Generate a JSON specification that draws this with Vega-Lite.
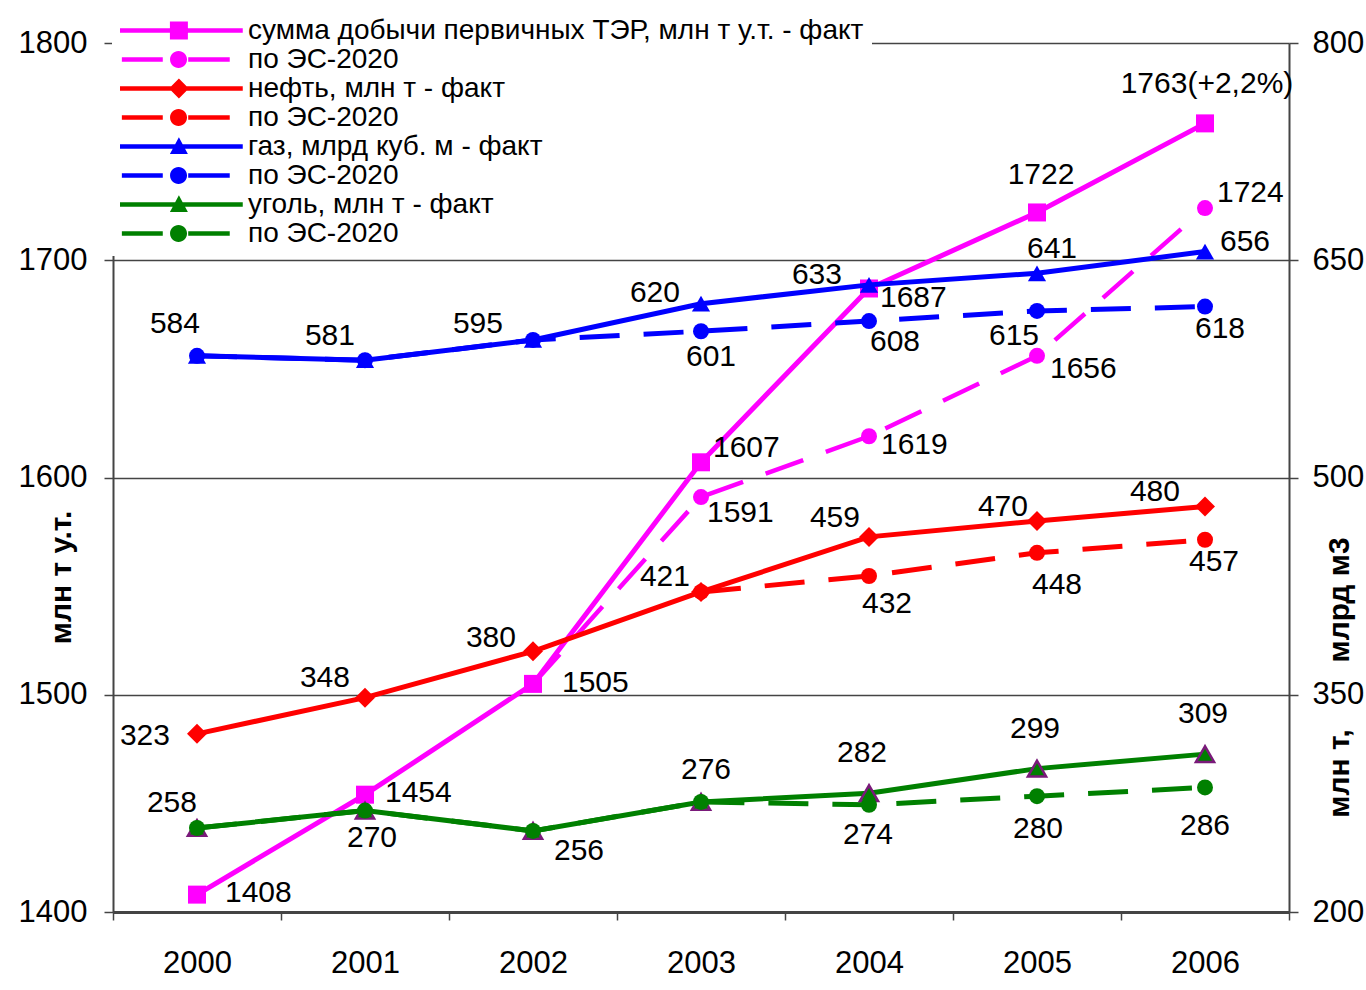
{
  "$schema": "https://vega.github.io/schema/vega-lite/v6.json",
  "width": 1176,
  "height": 869,
  "autosize": "none",
  "padding": {"left": 113, "top": 43, "right": 77, "bottom": 78},
  "background": "white",
  "config": {
    "view": {"stroke": null},
    "axis": {"labelFont": "Liberation Sans", "labelFontSize": 31, "labelColor": "#000", "titleFont": "Liberation Sans", "titleColor": "#000", "domainColor": "#444", "tickColor": "#444", "gridColor": "#444", "labelFlush": false, "labelOverlap": false},
    "text": {"font": "Liberation Sans", "fontSize": 30, "baseline": "middle", "color": "#000"}
  },
  "data": {"values": [
    {"code": "TF", "year": "2000", "value": 1408, "label": "1408"},
    {"code": "TF", "year": "2001", "value": 1454, "label": "1454"},
    {"code": "TF", "year": "2002", "value": 1505, "label": "1505"},
    {"code": "TF", "year": "2003", "value": 1607, "label": "1607"},
    {"code": "TF", "year": "2004", "value": 1687, "label": "1687"},
    {"code": "TF", "year": "2005", "value": 1722, "label": "1722"},
    {"code": "TF", "year": "2006", "value": 1763, "label": "1763(+2,2%)"},
    {"code": "TP", "year": "2002", "value": 1505, "label": null},
    {"code": "TP", "year": "2003", "value": 1591, "label": "1591"},
    {"code": "TP", "year": "2004", "value": 1619, "label": "1619"},
    {"code": "TP", "year": "2005", "value": 1656, "label": "1656"},
    {"code": "TP", "year": "2006", "value": 1724, "label": "1724"},
    {"code": "OF", "year": "2000", "value": 323, "label": "323"},
    {"code": "OF", "year": "2001", "value": 348, "label": "348"},
    {"code": "OF", "year": "2002", "value": 380, "label": "380"},
    {"code": "OF", "year": "2003", "value": 421, "label": "421"},
    {"code": "OF", "year": "2004", "value": 459, "label": "459"},
    {"code": "OF", "year": "2005", "value": 470, "label": "470"},
    {"code": "OF", "year": "2006", "value": 480, "label": "480"},
    {"code": "OP", "year": "2003", "value": 421, "label": null},
    {"code": "OP", "year": "2004", "value": 432, "label": "432"},
    {"code": "OP", "year": "2005", "value": 448, "label": "448"},
    {"code": "OP", "year": "2006", "value": 457, "label": "457"},
    {"code": "GF", "year": "2000", "value": 584, "label": "584"},
    {"code": "GF", "year": "2001", "value": 581, "label": "581"},
    {"code": "GF", "year": "2002", "value": 595, "label": "595"},
    {"code": "GF", "year": "2003", "value": 620, "label": "620"},
    {"code": "GF", "year": "2004", "value": 633, "label": "633"},
    {"code": "GF", "year": "2005", "value": 641, "label": "641"},
    {"code": "GF", "year": "2006", "value": 656, "label": "656"},
    {"code": "GP", "year": "2000", "value": 584, "label": null},
    {"code": "GP", "year": "2001", "value": 581, "label": null},
    {"code": "GP", "year": "2002", "value": 595, "label": null},
    {"code": "GP", "year": "2003", "value": 601, "label": "601"},
    {"code": "GP", "year": "2004", "value": 608, "label": "608"},
    {"code": "GP", "year": "2005", "value": 615, "label": "615"},
    {"code": "GP", "year": "2006", "value": 618, "label": "618"},
    {"code": "CF", "year": "2000", "value": 258, "label": "258"},
    {"code": "CF", "year": "2001", "value": 270, "label": null},
    {"code": "CF", "year": "2002", "value": 256, "label": "256"},
    {"code": "CF", "year": "2003", "value": 276, "label": "276"},
    {"code": "CF", "year": "2004", "value": 282, "label": "282"},
    {"code": "CF", "year": "2005", "value": 299, "label": "299"},
    {"code": "CF", "year": "2006", "value": 309, "label": "309"},
    {"code": "CP", "year": "2000", "value": 258, "label": null},
    {"code": "CP", "year": "2001", "value": 270, "label": "270"},
    {"code": "CP", "year": "2002", "value": 256, "label": null},
    {"code": "CP", "year": "2003", "value": 276, "label": null},
    {"code": "CP", "year": "2004", "value": 274, "label": "274"},
    {"code": "CP", "year": "2005", "value": 280, "label": "280"},
    {"code": "CP", "year": "2006", "value": 286, "label": "286"}
  ]},
  "encoding": {
    "x": {"field": "year", "type": "ordinal", "bandPosition": 0.5,
      "scale": {"type": "band", "paddingInner": 0, "paddingOuter": 0},
      "axis": {"title": null, "labelAngle": 0, "tickBand": "extent", "tickSize": 8, "tickWidth": 1.5, "domainWidth": 3, "labelPadding": 28, "grid": false}}
  },
  "layer": [
    {
      "transform": [{"filter": "datum.code=='TF'||datum.code=='TP'"}],
      "encoding": {
        "y": {"field": "value", "type": "quantitative",
          "scale": {"domain": [1400, 1800], "zero": false, "nice": false},
          "axis": {"orient": "left", "values": [1400, 1500, 1600, 1700, 1800], "format": "d", "grid": true, "gridWidth": 1.3, "domainWidth": 2, "tickSize": 9, "tickWidth": 1.5, "labelPadding": 17,
            "title": "млн т у.т.", "titleFontSize": 30, "titleFontWeight": "bold", "titleAngle": -90, "titleX": -43, "titleY": 534, "titleAlign": "center", "titleBaseline": "alphabetic"}}
      },
      "layer": [
        {"transform": [{"filter": "datum.code=='TF'"}], "mark": {"type": "line", "strokeWidth": 5},
          "encoding": {"color": {"field": "code", "type": "nominal",
            "scale": {"domain": ["TF", "TP", "OF", "OP", "GF", "GP", "CF", "CP"], "range": ["#ff00ff", "#ff00ff", "#ff0000", "#ff0000", "#0000ff", "#0000ff", "#008000", "#008000"]},
            "legend": {"orient": "none", "legendX": -1, "legendY": -35, "fillColor": "white", "padding": 8, "title": null, "symbolSize": 15376, "symbolStrokeWidth": 0, "clipHeight": 29, "rowPadding": 0,
              "labelFont": "Liberation Sans", "labelFontSize": 28, "labelColor": "#000", "labelOffset": 4, "labelLimit": 0,
              "labelExpr": "datum.value=='TF'?'сумма добычи первичных ТЭР, млн т у.т. - факт':datum.value=='OF'?'нефть, млн т - факт':datum.value=='GF'?'газ, млрд куб. м - факт':datum.value=='CF'?'уголь, млн т - факт':'по ЭС-2020'",
              "encode": {"symbols": {"update": {
                "shape": {"signal": "datum.value=='TF'?'M-1,-0.036H0.98V0.036H-1Z M-0.195,-0.145H0.095V0.145H-0.195Z':datum.value=='OF'?'M-1,-0.036H0.98V0.036H-1Z M-0.05,-0.16L0.11,0L-0.05,0.16L-0.21,0Z':(datum.value=='GF'||datum.value=='CF')?'M-1,-0.036H0.98V0.036H-1Z M-0.05,-0.15L0.095,0.12H-0.195Z':'M-0.97,-0.036H-0.31V0.036H-0.97Z M0.1,-0.036H0.77V0.036H0.1Z M-0.193,0A0.137,0.137,0,1,1,0.081,0A0.137,0.137,0,1,1,-0.193,0Z'"},
                "fill": {"signal": "substring(datum.value,0,1)=='T'?'#ff00ff':substring(datum.value,0,1)=='O'?'#ff0000':substring(datum.value,0,1)=='G'?'#0000ff':'#008000'"},
                "stroke": {"value": "transparent"},
                "strokeWidth": {"value": 0},
                "opacity": {"value": 1}
              }}}}}}},
        {"transform": [{"filter": "datum.code=='TP'"}], "mark": {"type": "line", "strokeWidth": 4.5, "strokeDash": [40, 24]},
          "encoding": {"color": {"field": "code", "type": "nominal"}}},
        {"transform": [{"filter": "datum.code=='TP'"}], "mark": {"type": "point", "shape": "circle", "filled": true, "size": 256, "color": "#ff00ff", "opacity": 1}},
        {"transform": [{"filter": "datum.code=='TF'"}], "mark": {"type": "point", "shape": "square", "filled": true, "size": 324, "color": "#ff00ff", "opacity": 1}},
        {"encoding": {"text": {"field": "label"}},
          "layer": [
            {"transform": [{"filter": "datum.code=='TF'&&datum.year=='2000'"}], "mark": {"type": "text", "align": "left", "dx": 28, "dy": -2}},
            {"transform": [{"filter": "datum.code=='TF'&&datum.year=='2001'"}], "mark": {"type": "text", "align": "left", "dx": 20, "dy": -2}},
            {"transform": [{"filter": "datum.code=='TF'&&datum.year=='2002'"}], "mark": {"type": "text", "align": "left", "dx": 29, "dy": -1}},
            {"transform": [{"filter": "datum.code=='TF'&&datum.year=='2003'"}], "mark": {"type": "text", "align": "left", "dx": 12, "dy": -14}},
            {"transform": [{"filter": "datum.code=='TF'&&datum.year=='2004'"}], "mark": {"type": "text", "align": "left", "dx": 11, "dy": 10}},
            {"transform": [{"filter": "datum.code=='TF'&&datum.year=='2005'"}], "mark": {"type": "text", "align": "center", "dx": 4, "dy": -37}},
            {"transform": [{"filter": "datum.code=='TF'&&datum.year=='2006'"}], "mark": {"type": "text", "align": "center", "dx": 2, "dy": -39}},
            {"transform": [{"filter": "datum.code=='TP'&&datum.year=='2003'"}], "mark": {"type": "text", "align": "left", "dx": 6, "dy": 16}},
            {"transform": [{"filter": "datum.code=='TP'&&datum.year=='2004'"}], "mark": {"type": "text", "align": "left", "dx": 12, "dy": 9}},
            {"transform": [{"filter": "datum.code=='TP'&&datum.year=='2005'"}], "mark": {"type": "text", "align": "left", "dx": 13, "dy": 13}},
            {"transform": [{"filter": "datum.code=='TP'&&datum.year=='2006'"}], "mark": {"type": "text", "align": "left", "dx": 12, "dy": -15}}
          ]}
      ]
    },
    {
      "transform": [{"filter": "datum.code!='TF'&&datum.code!='TP'"}],
      "encoding": {
        "y": {"field": "value", "type": "quantitative",
          "scale": {"domain": [200, 800], "zero": false, "nice": false},
          "axis": {"orient": "right", "values": [200, 350, 500, 650, 800], "format": "d", "grid": false, "domainWidth": 2, "tickSize": 9, "tickWidth": 1.5, "labelPadding": 14,
            "title": "млн т,\u00a0\u00a0\u00a0\u00a0\u00a0\u00a0\u00a0\u00a0млрд м3", "titleFontSize": 30, "titleFontWeight": "bold", "titleAngle": -90, "titleX": 59, "titleY": 634, "titleAlign": "center", "titleBaseline": "alphabetic"}}
      },
      "layer": [
        {"transform": [{"filter": "datum.code=='OF'||datum.code=='GF'||datum.code=='CF'"}], "mark": {"type": "line", "strokeWidth": 5},
          "encoding": {"color": {"field": "code", "type": "nominal"}}},
        {"transform": [{"filter": "datum.code=='OP'||datum.code=='GP'||datum.code=='CP'"}], "mark": {"type": "line", "strokeWidth": 5, "strokeDash": [40, 24]},
          "encoding": {"color": {"field": "code", "type": "nominal"}}},
        {"transform": [{"filter": "datum.code=='OP'"}], "mark": {"type": "point", "shape": "circle", "filled": true, "size": 256, "color": "#ff0000", "opacity": 1}},
        {"transform": [{"filter": "datum.code=='OF'"}], "mark": {"type": "point", "shape": "diamond", "filled": true, "size": 400, "color": "#ff0000", "opacity": 1}},
        {"transform": [{"filter": "datum.code=='GP'"}], "mark": {"type": "point", "shape": "circle", "filled": true, "size": 256, "color": "#0000ff", "opacity": 1}},
        {"transform": [{"filter": "datum.code=='GF'"}], "mark": {"type": "point", "shape": "triangle-up", "filled": true, "size": 330, "color": "#0000ff", "opacity": 1}},
        {"transform": [{"filter": "datum.code=='CF'"}], "mark": {"type": "point", "shape": "triangle-up", "filled": true, "size": 330, "fill": "#008000", "stroke": "#7a1a7a", "strokeWidth": 2.5, "opacity": 1}},
        {"transform": [{"filter": "datum.code=='CP'"}], "mark": {"type": "point", "shape": "circle", "filled": true, "size": 256, "color": "#008000", "opacity": 1}},
        {"encoding": {"text": {"field": "label"}},
          "layer": [
            {"transform": [{"filter": "datum.code=='OF'&&datum.year=='2000'"}], "mark": {"type": "text", "align": "right", "dx": -27, "dy": 2}},
            {"transform": [{"filter": "datum.code=='OF'&&datum.year=='2001'"}], "mark": {"type": "text", "align": "right", "dx": -15, "dy": -20}},
            {"transform": [{"filter": "datum.code=='OF'&&datum.year=='2002'"}], "mark": {"type": "text", "align": "right", "dx": -17, "dy": -13}},
            {"transform": [{"filter": "datum.code=='OF'&&datum.year=='2003'"}], "mark": {"type": "text", "align": "right", "dx": -11, "dy": -15}},
            {"transform": [{"filter": "datum.code=='OF'&&datum.year=='2004'"}], "mark": {"type": "text", "align": "right", "dx": -9, "dy": -19}},
            {"transform": [{"filter": "datum.code=='OF'&&datum.year=='2005'"}], "mark": {"type": "text", "align": "right", "dx": -9, "dy": -14}},
            {"transform": [{"filter": "datum.code=='OF'&&datum.year=='2006'"}], "mark": {"type": "text", "align": "right", "dx": -25, "dy": -14}},
            {"transform": [{"filter": "datum.code=='OP'&&datum.year=='2004'"}], "mark": {"type": "text", "align": "center", "dx": 18, "dy": 28}},
            {"transform": [{"filter": "datum.code=='OP'&&datum.year=='2005'"}], "mark": {"type": "text", "align": "center", "dx": 20, "dy": 32}},
            {"transform": [{"filter": "datum.code=='OP'&&datum.year=='2006'"}], "mark": {"type": "text", "align": "center", "dx": 9, "dy": 22}},
            {"transform": [{"filter": "datum.code=='GF'&&datum.year=='2000'"}], "mark": {"type": "text", "align": "right", "dx": 3, "dy": -32}},
            {"transform": [{"filter": "datum.code=='GF'&&datum.year=='2001'"}], "mark": {"type": "text", "align": "right", "dx": -10, "dy": -24}},
            {"transform": [{"filter": "datum.code=='GF'&&datum.year=='2002'"}], "mark": {"type": "text", "align": "right", "dx": -30, "dy": -16}},
            {"transform": [{"filter": "datum.code=='GF'&&datum.year=='2003'"}], "mark": {"type": "text", "align": "right", "dx": -21, "dy": -11}},
            {"transform": [{"filter": "datum.code=='GF'&&datum.year=='2004'"}], "mark": {"type": "text", "align": "right", "dx": -27, "dy": -10}},
            {"transform": [{"filter": "datum.code=='GF'&&datum.year=='2005'"}], "mark": {"type": "text", "align": "center", "dx": 15, "dy": -24}},
            {"transform": [{"filter": "datum.code=='GF'&&datum.year=='2006'"}], "mark": {"type": "text", "align": "left", "dx": 15, "dy": -10}},
            {"transform": [{"filter": "datum.code=='GP'&&datum.year=='2003'"}], "mark": {"type": "text", "align": "center", "dx": 10, "dy": 26}},
            {"transform": [{"filter": "datum.code=='GP'&&datum.year=='2004'"}], "mark": {"type": "text", "align": "center", "dx": 26, "dy": 21}},
            {"transform": [{"filter": "datum.code=='GP'&&datum.year=='2005'"}], "mark": {"type": "text", "align": "center", "dx": -23, "dy": 25}},
            {"transform": [{"filter": "datum.code=='GP'&&datum.year=='2006'"}], "mark": {"type": "text", "align": "center", "dx": 15, "dy": 22}},
            {"transform": [{"filter": "datum.code=='CF'&&datum.year=='2000'"}], "mark": {"type": "text", "align": "right", "dx": 0, "dy": -25}},
            {"transform": [{"filter": "datum.code=='CF'&&datum.year=='2002'"}], "mark": {"type": "text", "align": "left", "dx": 21, "dy": 20}},
            {"transform": [{"filter": "datum.code=='CF'&&datum.year=='2003'"}], "mark": {"type": "text", "align": "center", "dx": 5, "dy": -32}},
            {"transform": [{"filter": "datum.code=='CF'&&datum.year=='2004'"}], "mark": {"type": "text", "align": "center", "dx": -7, "dy": -40}},
            {"transform": [{"filter": "datum.code=='CF'&&datum.year=='2005'"}], "mark": {"type": "text", "align": "center", "dx": -2, "dy": -40}},
            {"transform": [{"filter": "datum.code=='CF'&&datum.year=='2006'"}], "mark": {"type": "text", "align": "center", "dx": -2, "dy": -40}},
            {"transform": [{"filter": "datum.code=='CP'&&datum.year=='2001'"}], "mark": {"type": "text", "align": "center", "dx": 7, "dy": 27}},
            {"transform": [{"filter": "datum.code=='CP'&&datum.year=='2004'"}], "mark": {"type": "text", "align": "center", "dx": -1, "dy": 30}},
            {"transform": [{"filter": "datum.code=='CP'&&datum.year=='2005'"}], "mark": {"type": "text", "align": "center", "dx": 1, "dy": 33}},
            {"transform": [{"filter": "datum.code=='CP'&&datum.year=='2006'"}], "mark": {"type": "text", "align": "center", "dx": 0, "dy": 39}}
          ]}
      ]
    }
  ],
  "resolve": {"scale": {"y": "independent"}}
}
